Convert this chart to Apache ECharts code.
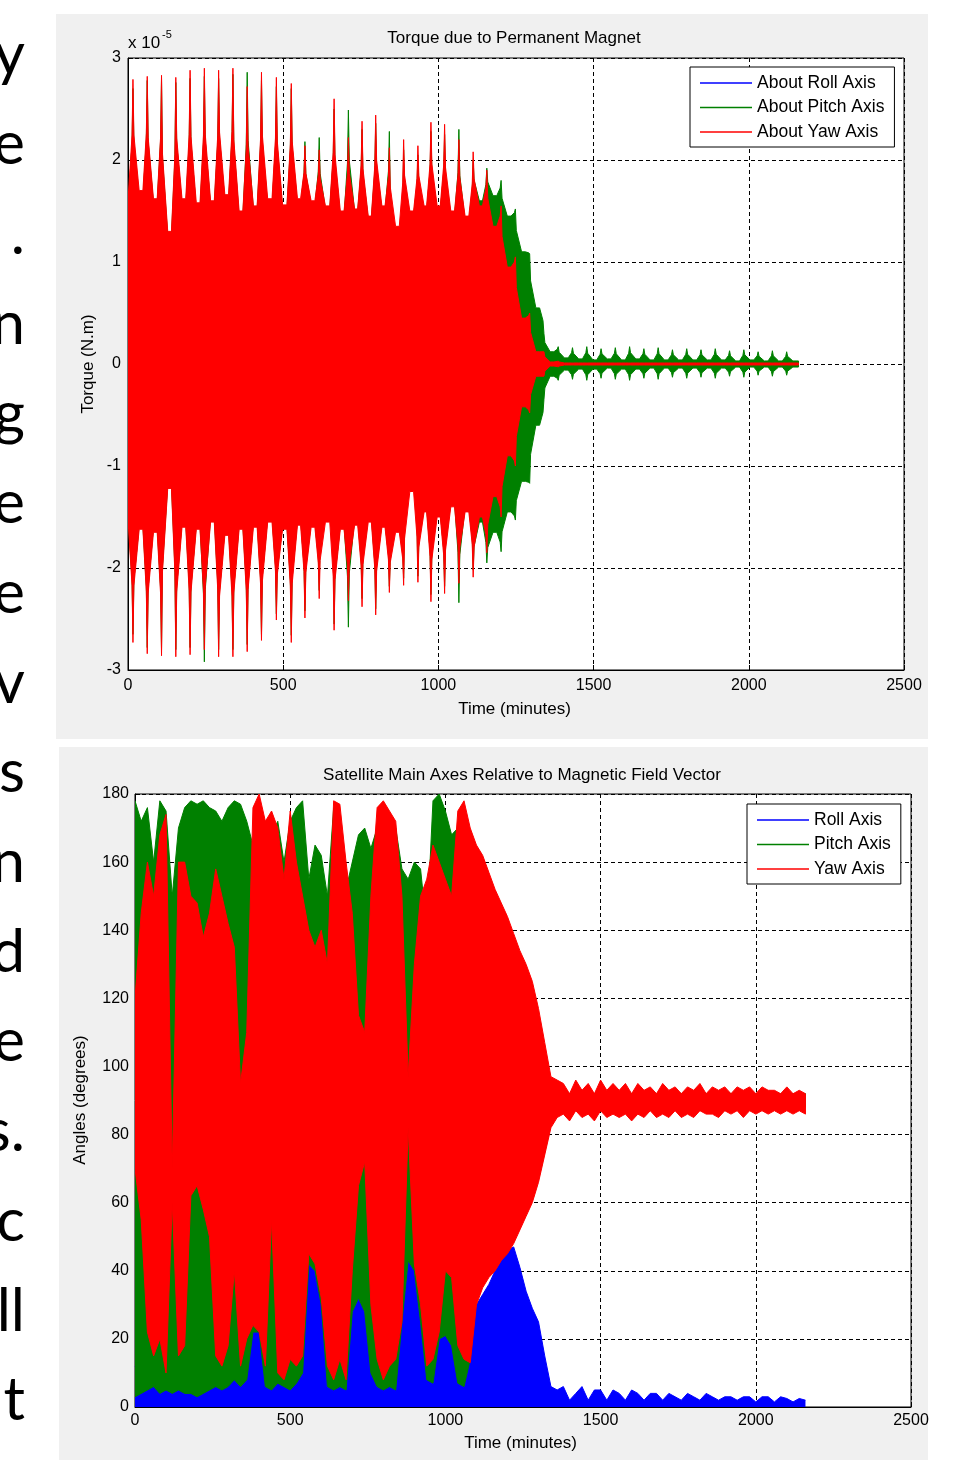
<!DOCTYPE html>
<html><head><meta charset="utf-8">
<script src="https://cdn.jsdelivr.net/npm/echarts/dist/echarts.min.js"></script>
<style>
html,body{margin:0;padding:0;background:#fff;width:976px;height:1460px;overflow:hidden;}
.panel{position:absolute;background:#f0f0f0;}
#chart{position:absolute;left:0;top:0;width:976px;height:1460px;}
</style></head><body>
<div class="panel" style="left:56px;top:14px;width:872px;height:725px"></div>
<div class="panel" style="left:59px;top:747px;width:869px;height:713px"></div>
<div id="chart"></div>
<script>
// ---------------- DATA ----------------
// slide text cut off at the left edge of the picture (line endings)
const slideLineEnds = ['y','e','.','n','g','e','e','v','s','n','d','e','s.','c','ll','t'];

const simEnd = 2160;            // minutes, last simulated sample
const timeTicks = [0, 500, 1000, 1500, 2000, 2500];

// Figure 1 : torque (x 1e-5 N.m), oscillation peaks ("teeth") and the levels between them
const tqT = [16,62,108,154,200,246,292,338,384,430,478,526,570,616,664,710,754,798,842,888,934,976,1020,1066,1112,1156,1202,1248,1294,1340,1386,1432,1478,1524,1570,1616,1662,1708,1754,1800,1846,1892,1938,1984,2030,2076,2122];
const rollTorqueT = [0, 2160];
const rollTorque  = [0, 0];
const yawHi     = [2.79,2.82,2.83,2.81,2.88,2.90,2.88,2.90,2.72,2.86,2.81,2.75,2.14,2.10,2.60,2.22,2.38,2.44,2.12,2.20,2.14,2.37,2.35,2.20,2.08,1.90,1.55,1.05,0.50,0.12,0.03,0.01,0.01,0.01,0.01,0.01,0.01,0.01,0.01,0.01,0.01,0.01,0.01,0.01,0.01,0.01,0.01];
const yawHiBase = [1.70,1.62,1.30,1.62,1.58,1.60,1.66,1.50,1.55,1.62,1.56,1.62,1.60,1.55,1.50,1.52,1.45,1.55,1.35,1.50,1.55,1.55,1.50,1.45,1.55,1.35,0.95,0.45,0.12,0.02,0.01,0.01,0.01,0.01,0.01,0.01,0.01,0.01,0.01,0.01,0.01,0.01,0.01,0.01,0.01,0.01,0.01];
const yawLo     = [-2.73,-2.84,-2.86,-2.87,-2.85,-2.80,-2.87,-2.87,-2.82,-2.71,-2.51,-2.73,-2.49,-2.30,-2.61,-2.32,-2.38,-2.46,-2.24,-2.17,-2.14,-2.33,-2.25,-2.15,-2.09,-1.85,-1.50,-1.00,-0.48,-0.12,-0.03,-0.01,-0.01,-0.01,-0.01,-0.01,-0.01,-0.01,-0.01,-0.01,-0.01,-0.01,-0.01,-0.01,-0.01,-0.01,-0.01];
const yawLoBase = [-1.62,-1.65,-1.22,-1.60,-1.62,-1.55,-1.68,-1.62,-1.60,-1.55,-1.62,-1.58,-1.60,-1.55,-1.62,-1.58,-1.55,-1.60,-1.65,-1.25,-1.45,-1.50,-1.40,-1.45,-1.50,-1.30,-0.90,-0.42,-0.12,-0.02,-0.01,-0.01,-0.01,-0.01,-0.01,-0.01,-0.01,-0.01,-0.01,-0.01,-0.01,-0.01,-0.01,-0.01,-0.01,-0.01,-0.01];
const pitchHi     = [2.70,2.78,2.80,2.76,2.80,2.82,2.80,2.84,2.86,2.78,2.72,2.70,2.18,2.22,2.50,2.49,2.30,2.36,2.28,2.10,2.05,2.28,2.25,2.30,2.00,1.92,1.80,1.52,1.08,0.30,0.17,0.16,0.17,0.15,0.16,0.17,0.15,0.16,0.14,0.15,0.14,0.15,0.13,0.14,0.12,0.13,0.12];
const pitchHiBase = [1.62,1.58,1.25,1.55,1.52,1.55,1.60,1.45,1.52,1.55,1.52,1.55,1.55,1.52,1.45,1.50,1.42,1.50,1.05,1.45,1.50,1.50,1.45,1.40,1.60,1.65,1.45,1.10,0.55,0.12,0.06,0.05,0.04,0.05,0.04,0.05,0.04,0.04,0.04,0.04,0.04,0.04,0.03,0.04,0.03,0.03,0.03];
const pitchLo     = [-2.65,-2.78,-2.80,-2.80,-2.78,-2.92,-2.80,-2.80,-2.75,-2.65,-2.45,-2.66,-2.42,-2.22,-2.55,-2.58,-2.30,-2.40,-2.18,-2.10,-2.08,-2.26,-2.18,-2.34,-2.02,-1.95,-1.84,-1.53,-1.17,-0.35,-0.16,-0.15,-0.16,-0.14,-0.15,-0.16,-0.14,-0.15,-0.13,-0.14,-0.13,-0.14,-0.12,-0.13,-0.11,-0.12,-0.11];
const pitchLoBase = [-1.58,-1.60,-1.18,-1.55,-1.58,-1.50,-1.62,-1.58,-1.55,-1.50,-1.58,-1.52,-1.55,-1.15,-1.58,-1.52,-1.50,-1.55,-1.60,-1.05,-1.40,-1.45,-1.35,-1.40,-1.55,-1.65,-1.45,-1.15,-0.60,-0.12,-0.06,-0.05,-0.05,-0.04,-0.05,-0.05,-0.04,-0.04,-0.04,-0.04,-0.04,-0.04,-0.03,-0.03,-0.03,-0.03,-0.03];

// Figure 2 : angles (degrees), oscillation range read every angStep minutes
const angStep = 20;
const yawAngHi = [120,145,160,150,168,174,70,160,160,150,148,138,145,158,150,142,135,95,110,176,180,172,175,170,155,175,160,150,140,135,140,130,178,177,160,145,115,110,150,176,178,175,172,150,97,130,150,155,165,160,155,150,175,178,170,165,162,157,152,148,144,139,134,130,125,117,107,97,96,
  95,92,96,93,95,92,96,93,95,93,95,92,95,93,94,92,95,93,94,92,94,93,95,92,94,93,94,92,94,93,94,92,94,93,93,92,94,92,93,92];
const yawAngLo = [70,55,22,15,20,10,60,15,18,62,65,58,50,15,12,18,40,12,20,24,22,12,55,10,8,14,12,15,45,42,32,12,8,14,8,40,65,72,30,14,8,12,14,25,82,42,30,12,14,22,40,38,18,14,13,30,35,38,40,43,45,48,52,56,60,66,74,82,85,
  86,84,87,85,86,84,87,85,86,85,86,84,86,85,87,85,86,85,87,85,86,85,87,86,86,85,87,86,87,85,87,86,87,86,87,86,87,86,87,86];
const pitchAngHi = [178,172,176,160,178,175,150,170,176,178,177,178,176,175,172,176,178,177,172,165,170,165,168,172,160,172,176,178,155,165,162,150,176,172,152,160,168,170,164,170,172,168,170,158,155,160,158,140,178,180,175,168,170,166,162,160,158,155,150,146,142,137,132,128,123,115,105,95,93,
  93,92,93,92,93,92,93,92,93,92,93,92,93,92,93,92,93,92,93,92,92,92,93,92,92,92,93,92,92,92,92,92,92,92,92,92,92,92,92,92];
const pitchAngLo = [3,4,5,6,4,5,4,5,4,4,3,4,5,6,5,6,8,6,8,22,22,6,5,7,6,5,7,10,42,40,30,6,5,6,5,28,32,28,10,6,5,6,5,25,43,40,25,8,7,20,21,18,7,6,14,32,36,39,41,44,46,49,53,57,61,67,75,83,86,
  87,88,87,88,87,88,87,88,87,88,87,88,87,88,87,88,87,88,87,88,88,88,87,88,88,88,87,88,88,88,88,88,88,88,88,88,88,88,88,88];
const rollAngHi = [12,10,8,10,8,10,12,10,8,10,9,10,8,10,12,10,12,15,15,22,22,12,10,12,10,12,15,25,42,40,30,12,10,12,10,28,32,28,20,12,10,10,12,25,43,40,25,12,12,20,21,18,12,15,20,30,33,36,40,43,46,47,41,34,29,25,15,6,5,
  6,2,4,6,2,5,5,2,5,4,2,5,4,2,4,4,2,4,3,2,4,3,2,4,3,2,3,3,2,3,3,1.5,3,3,1.5,3,2.5,1.5,2.5,2];

// ---------------- BUILD ----------------
const F = 'Liberation Sans';
const BLUE = '#0000ff', GREEN = '#008000', RED = '#ff0000';
// drawn shape of one oscillation peak (minutes before / after the peak, narrow neck)
const RISE = 14, FALL = 20, NECK = 3, NECK_FRAC = 0.5;

function toothEnvelope(times, peaks, bases, tEnd) {
  const pts = [[0, bases[0]]];
  for (let k = 0; k < times.length; k++) {
    const t = times[k], p = peaks[k];
    const prev = k === 0 ? bases[0] : bases[k - 1];
    const cur = bases[k];
    pts.push([Math.max(0, t - RISE), prev],
             [t - NECK, prev + NECK_FRAC * (p - prev)],
             [t, p],
             [t + NECK, cur + NECK_FRAC * (p - cur)],
             [t + FALL, cur]);
  }
  pts.push([tEnd, bases[bases.length - 1]]);
  return pts;
}
// closed outline: upper edge forward, lower edge backward
const outline = (upper, lower) => upper.concat(lower.slice().reverse());

function bandSeries(name, color, pts, gi) {
  return {
    type: 'custom', name, xAxisIndex: gi, yAxisIndex: gi, data: pts, z: 2,
    clip: true, silent: true, animation: false, itemStyle: { color },
    encode: { x: 0, y: 1 },
    renderItem: function (params, api) {
      if (params.dataIndexInside !== 0) return null;
      const n = params.dataInsideLength;
      const points = [];
      for (let j = 0; j < n; j++) points.push(api.coord([api.value(0, j), api.value(1, j)]));
      return { type: 'polygon', shape: { points }, style: { fill: color, stroke: color, lineWidth: 1 } };
    }
  };
}
function lineSeries(name, color, data, gi, opts) {
  return Object.assign({
    type: 'line', name, xAxisIndex: gi, yAxisIndex: gi, data, z: 1,
    symbol: 'none', showSymbol: false, color, itemStyle: { color },
    lineStyle: { color, width: 1 }, silent: true, animation: false,
    emphasis: { disabled: true }
  }, opts || {});
}

const angT = yawAngHi.map((_, i) => i * angStep);
const pairs = (arr) => angT.map((t, i) => [t, arr[i]]);

const series = [
  // --- figure 1 (roll torque lies under the others) ---
  lineSeries('About Roll Axis', BLUE, rollTorqueT.map((t, i) => [t, rollTorque[i]]), 0),
  bandSeries('About Pitch Axis', GREEN, outline(toothEnvelope(tqT, pitchHi, pitchHiBase, simEnd), toothEnvelope(tqT, pitchLo, pitchLoBase, simEnd)), 0),
  bandSeries('About Yaw Axis', RED, outline(toothEnvelope(tqT, yawHi, yawHiBase, simEnd), toothEnvelope(tqT, yawLo, yawLoBase, simEnd)), 0),
  // --- figure 2 ---
  lineSeries('Roll Axis', BLUE, pairs(rollAngHi), 1, { areaStyle: { color: BLUE, opacity: 1 } }),
  bandSeries('Pitch Axis', GREEN, outline(pairs(pitchAngHi), pairs(pitchAngLo)), 1),
  bandSeries('Yaw Axis', RED, outline(pairs(yawAngHi), pairs(yawAngLo)), 1)
];

const plainNum = (v) => String(v);
function mkX(gi, margin) {
  return {
    type: 'value', gridIndex: gi, min: timeTicks[0], max: timeTicks[timeTicks.length - 1], interval: 500,
    axisLine: { show: true, onZero: false, lineStyle: { color: '#000', width: 1 } },
    axisTick: { show: true, inside: true, length: 5, lineStyle: { color: '#000' } },
    axisLabel: { margin, color: '#000', fontSize: 16, fontFamily: F, showMinLabel: true, showMaxLabel: true, formatter: plainNum },
    splitLine: { show: true, lineStyle: { color: '#000', type: [4, 3], width: 1 } }
  };
}
function mkY(gi, min, max, interval, margin) {
  return {
    type: 'value', gridIndex: gi, min, max, interval,
    axisLine: { show: true, onZero: false, lineStyle: { color: '#000', width: 1 } },
    axisTick: { show: true, inside: true, length: 5, lineStyle: { color: '#000' } },
    axisLabel: { margin, color: '#000', fontSize: 16, fontFamily: F, showMinLabel: true, showMaxLabel: true, formatter: plainNum },
    splitLine: { show: true, lineStyle: { color: '#000', type: [4, 3], width: 1 } }
  };
}
function legendBox(names, left, top) {
  return {
    data: names, orient: 'vertical', left, top, padding: [7, 10, 6, 10], itemGap: 6.5,
    itemWidth: 52, itemHeight: 1.5, icon: 'rect', backgroundColor: '#fff',
    borderColor: '#000', borderWidth: 1, borderRadius: 0, selectedMode: false,
    textStyle: { fontFamily: F, fontSize: 17.5, color: '#000', lineHeight: 18 }
  };
}
function txt(text, x, y, size, opts) {
  return Object.assign({
    type: 'text', x, y, silent: true,
    style: Object.assign({ text, fill: '#000', font: size + 'px "' + F + '"', textAlign: 'center', textVerticalAlign: 'middle' }, (opts && opts.style) || {})
  }, opts && opts.rotation ? { rotation: opts.rotation } : {});
}

const graphic = [
  txt('Torque due to Permanent Magnet', 514, 38.8, 17),
  txt('Time (minutes)', 514.5, 709, 17),
  txt('Torque (N.m)', 88.5, 364, 17, { rotation: Math.PI / 2 }),
  txt('x 10', 128, 43.1, 17, { style: { textAlign: 'left' } }),
  txt('-5', 162, 35.2, 11, { style: { textAlign: 'left' } }),
  txt('Satellite Main Axes Relative to Magnetic Field Vector', 522, 775.1, 17),
  txt('Time (minutes)', 520.5, 1443.4, 17),
  txt('Angles (degrees)', 80.5, 1100, 17, { rotation: Math.PI / 2 })
];
slideLineEnds.forEach((s, i) => {
  graphic.push({
    type: 'text', x: 25, y: 55.4 + 89.7 * i, silent: true,
    style: { text: s, fill: '#000', font: '60px Lato', textAlign: 'right', textVerticalAlign: 'middle' }
  });
});

const option = {
  animation: false,
  grid: [
    { left: 128, top: 58, width: 776, height: 612, show: true, backgroundColor: '#fff', borderColor: '#000', borderWidth: 1, outerBoundsMode: 'none' },
    { left: 135, top: 794, width: 776, height: 613, show: true, backgroundColor: '#fff', borderColor: '#000', borderWidth: 1, outerBoundsMode: 'none' }
  ],
  xAxis: [mkX(0, 8), mkX(1, 6)],
  yAxis: [mkY(0, -3, 3, 1, 7), mkY(1, 0, 180, 20, 6)],
  legend: [
    legendBox(['About Roll Axis', 'About Pitch Axis', 'About Yaw Axis'], 690, 67),
    legendBox(['Roll Axis', 'Pitch Axis', 'Yaw Axis'], 747, 804)
  ],
  graphic,
  series
};
const chart = echarts.init(document.getElementById('chart'), null, { renderer: 'canvas', width: 976, height: 1460 });
chart.setOption(option);
</script>
</body></html>
